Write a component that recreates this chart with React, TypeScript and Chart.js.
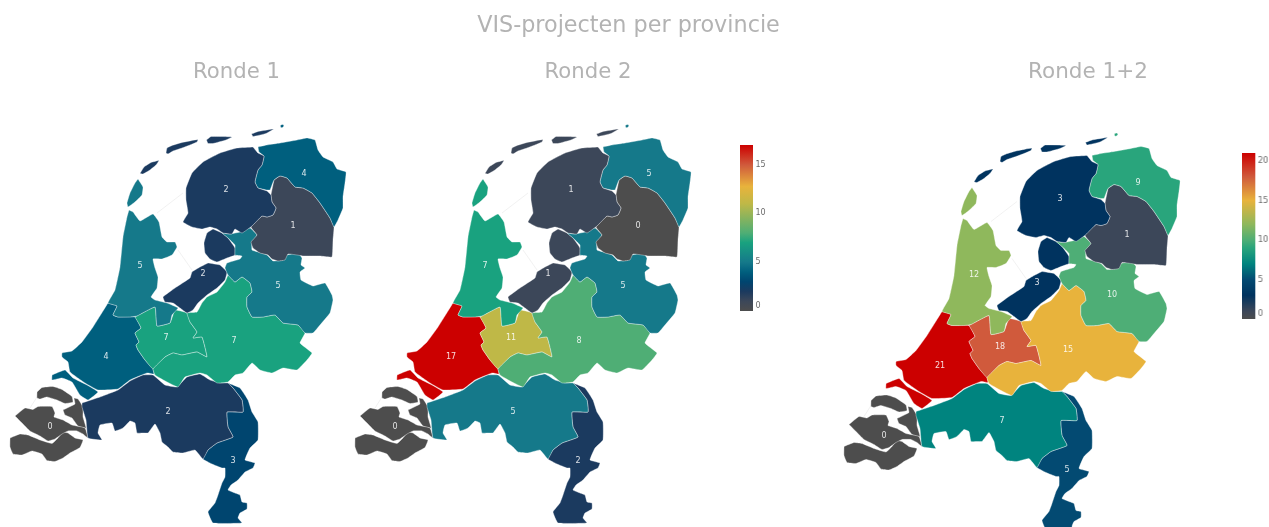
import React, { useEffect, useRef } from "react";
import { Chart, registerables } from "chart.js";

Chart.register(...registerables);

const PROVINCES = ["Friesland","Groningen","Drenthe","Overijssel","Flevoland","Noord-Holland","Gelderland","Utrecht","Zuid-Holland","Noord-Brabant","Limburg","Zeeland"];
const RONDE_1 = [2,4,1,5,2,5,7,7,4,2,3,0];
const RONDE_2 = [1,5,0,5,1,7,8,11,17,5,2,0];
const RONDE_12 = [3,9,1,10,3,12,15,18,21,7,5,0];
const TICKS_2 = [0,5,10,15];
const TICKS_12 = [0,5,10,15,20];

const FRIESLAND = [[253,147,258,153,264,156,262,165,258,170,255,182,258,188,267,191,271,195,272,202,276,208,273,215,267,217,262,216,252,226,242,233,235,229,232,234,223,233,217,229,210,227,202,229,192,227,183,222,188,213,186,200,186,188,192,173,203,162,220,153,237,148],
  [140,173.5,144,167,151,162.5,159,160.5,156,165,150,170,143,174],[166,153,167,148,172,145.5,182,142.5,198,139.5,197,142,190,145,182,148,173,151,168,154],[206.5,140,211,136.5,222,136.5,232,137,226,140,213,143.5,208,143.5],[251.5,134,258,131.5,273.5,129,266,133.5,253,136.5]];
const GRONINGEN = [[258,147,267,145,280,143,297,140,307,138,315,140,318,150,323,157,333,162,337,169,346,172,345,183,343,197,343,208,338,220,334,227,330,218,320,203,312,193,303,188,295,187,287,178,280,176,274,180,270,190,267,190,258,188,255,182,258,170,262,165,264,156,259,152],[280.5,125,283,124.5,284,126,282,127.8,280.5,127]];
const DRENTHE = [[274,180,280,176,287,178,295,187,303,188,312,193,320,203,330,218,334,227,333,240,332,257,320,256,303,256,297,255,288,254,285,260,278,261,272,259,268,255,260,253,253,248,251,242,257,235,251,227,262,216,267,217,273,215,276,208,272,202,271,195]];
const OVERIJSSEL = [[222,233,230,234,240,232,250,228,257,235,252,242,252,250,258,252,267,255,273,261,283,260,287,255,298,253,302,258,301,265,305,268,300,272,301,280,313,286,325,283,332,295,333,300,330,313,320,325,313,333,305,333,298,325,283,323,275,315,263,317,252,317,247,307,247,297,252,292,250,283,242,277,235,282,228,275,225,268,227,263,240,259,242,256,235,255,235,245,228,238]];
const FLEVOLAND = [[213,229,222,233,228,238,235,248,235,255,227,258,217,262,210,259,205,253,204,243,207,233],[208,263,220,265,227,272,225,280,217,288,207,295,198,303,193,310,187,313,180,308,173,303,165,302,163,297,175,288,190,278,192,272,200,267]];
const NOORD_HOLLAND = [[129,210,133,212,140,221,153,214,159,222,162,237,167,242,175,242,177,247,172,255,162,259,153,259,155,268,158,277,157,288,151,297,155,300,167,303,178,308,172,315,170,323,157,326,155,307,137,316,130,317,118,317,113,315,117,306,108,303,115,290,120,267,123,237,127,217],[138,179,143,187,142,195,135,202,128,207,127,203,130,193,135,183]];
const GELDERLAND = [[228,275,235,282,242,277,250,283,252,292,247,297,247,307,252,317,263,317,275,315,283,323,298,325,305,333,300,343,312,353,307,360,297,370,283,368,272,373,260,370,252,363,243,373,235,375,228,382,217,383,207,375,200,373,185,377,178,387,167,382,155,375,153,369,165,357,173,353,182,355,197,352,207,357,202,337,193,338,197,332,190,322,187,313,197,312,202,303,207,297,217,292,225,282]];
const UTRECHT = [[135,317,155,307,157,326,170,323,175,310,187,313,190,322,197,332,193,338,202,337,207,357,197,352,182,355,173,353,165,357,153,369,145,360,138,350,136,345,139,342,135,333,141,328]];
const ZUID_HOLLAND = [[108,303,117,306,113,315,118,317,135,317,141,328,135,333,139,342,136,345,138,350,145,360,153,369,154,374,147,373,130,380,118,389,98,390,85,383,70,372,68,362,62,357,62,353,72,351,82,342,93,327],[52,375,65,370,73,378,87,385,98,392,88,400,80,395,72,382,62,378,52,380]];
const NOORD_BRABANT = [[82,403,100,397,118,390,130,381,143,375,153,375,165,385,177,387,187,377,200,374,210,380,220,383,228,383,233,388,242,400,243,412,227,412,228,427,233,437,217,443,208,450,203,459,195,450,183,453,173,452,168,447,162,442,160,433,155,424,148,433,143,433,137,433,135,423,130,421,123,428,115,431,112,423,100,425,98,433,102,440,88,438,86,420,82,407]];
const LIMBURG = [[228,383,240,388,248,400,252,412,258,422,258,440,250,448,245,460,255,463,253,468,245,472,238,480,231,485,228,490,235,493,240,495,242,502,247,503,247,509,240,513,238,518,242,523,213,523,208,512,215,503,218,495,222,483,225,477,225,468,222,468,212,464,203,459,208,450,217,443,233,437,228,427,227,412,243,412,242,400,233,388]];
const ZEELAND = [[37,392,42,387.5,53,386.5,62,389.5,72,396.5,73,402,65,403.5,57,400,47,397,40,399,37,398],
  [15,416,25,408,33,409.5,38,406.5,52,406.5,55,413,54,417,63,420,72,425,85,428,88,438,83,434,77,431,68,431,62,434,55,439,48,441,40,436,30,431,22,423],
  [63,410,75,404,74,398,78,399,83,407,83,417,86,428,78,426,72,418,65,415],
  [10,438,20,434,28,435,40,440,52,443.5,58,438,63,432,68,433,75,438,83,440,80,447.5,70,453,63,458,55,461.5,47,460.5,42,454,32,451,22,455,13,454,10,447]];
const ZEELAND_GAP = [34,411.5,36.5,413,39,420,36.5,418.5];
const SHAPES = [FRIESLAND,GRONINGEN,DRENTHE,OVERIJSSEL,FLEVOLAND,NOORD_HOLLAND,GELDERLAND,UTRECHT,ZUID_HOLLAND,NOORD_BRABANT,LIMBURG,ZEELAND];
const LABEL_X = [226,304,293,278,203,140,234,166,106,168,233,50];
const LABEL_Y = [190,174,226,286,274,266,341,338,357,412,461,427];
const FAINT_LINES = [[157,213,183,193],[178,250,192,270],[37,397,30,408]];

const SCALE_17: [number,string][] = [[0,"#4d4d4d"],[.059,"#3c4759"],[.118,"#1b3a5f"],[.176,"#00456f"],[.235,"#005f7e"],[.294,"#15798a"],[.412,"#19a27f"],[.47,"#4fae75"],[.647,"#bfb847"],[.75,"#e8b33c"],[.88,"#d05a3c"],[1,"#cc0000"]];
const SCALE_21: [number,string][] = [[0,"#4d4d4d"],[.048,"#3c4759"],[.143,"#00335f"],[.238,"#034a72"],[.333,"#00847f"],[.43,"#2aa57c"],[.476,"#4eae76"],[.571,"#8fb85c"],[.714,"#e8b33c"],[.857,"#d05a3c"],[1,"#cc0000"]];

const FONT = "'DejaVu Sans', sans-serif";

function hex(c: string) { return [1,3,5].map(i => parseInt(c.slice(i,i+2),16)); }
function colorAt(stops: [number,string][], t: number) {
  for (let i = 1; i < stops.length; i++) {
    if (t <= stops[i][0]) {
      const [a,ca] = stops[i-1], [b,cb] = stops[i];
      const f = (t-a)/(b-a), A = hex(ca), B = hex(cb);
      return `rgb(${A.map((v,k)=>Math.round(v+(B[k]-v)*f)).join(",")})`;
    }
  }
  return stops[stops.length-1][1];
}
function points(flat: number[]) {
  const out: {x:number,y:number}[] = [];
  for (let i = 0; i < flat.length; i += 2) out.push({x:flat[i],y:flat[i+1]});
  return out;
}

const labelPlugin = {
  id: "valueLabels",
  afterDatasetsDraw(chart: any) {
    const values: number[] = chart.options.plugins.valueLabels.values;
    const { ctx, scales } = chart;
    ctx.save();
    ctx.font = `8px ${FONT}`;
    ctx.fillStyle = "rgba(255,255,255,0.85)";
    ctx.textAlign = "center";
    ctx.textBaseline = "middle";
    values.forEach((v, i) => ctx.fillText(String(v), scales.x.getPixelForValue(LABEL_X[i]), scales.y.getPixelForValue(LABEL_Y[i])));
    ctx.restore();
  },
};

function polygon(flat: number[], label: string, color: string, edge: string) {
  const pts = points(flat);
  pts.push(pts[0]);
  return { label, data: pts, showLine: true, fill: "shape", backgroundColor: color, borderColor: edge, borderWidth: 0.6, pointRadius: 0, tension: 0.1 };
}

function MapPanel({ values, stops, cmax, left, width, dy }: any) {
  const ref = useRef<HTMLCanvasElement>(null);
  useEffect(() => {
    const datasets: any[] = [];
    FAINT_LINES.forEach(l => datasets.push({ data: points(l), showLine: true, pointRadius: 0, borderColor: "rgba(190,190,190,0.35)", borderWidth: 0.6 }));
    SHAPES.forEach((polys, i) => polys.forEach(poly => {
      datasets.push(polygon(poly, PROVINCES[i], colorAt(stops, values[i]/cmax), "rgba(255,255,255,0.6)"));
    }));
    datasets.push(polygon(ZEELAND_GAP, "", "#ffffff", "#ffffff"));
    const chart = new Chart(ref.current!, {
      type: "scatter",
      data: { datasets },
      plugins: [labelPlugin],
      options: {
        animation: false, responsive: false, events: [],
        layout: { padding: 0 },
        scales: {
          x: { display: false, min: 0, max: width },
          y: { display: false, reverse: true, min: -dy, max: 527-dy },
        },
        plugins: { legend: { display: false }, tooltip: { enabled: false }, valueLabels: { values } },
      } as any,
    });
    return () => chart.destroy();
  }, []);
  return <canvas ref={ref} width={width} height={527} style={{ position: "absolute", left, top: 0, width, height: 527 }} />;
}

const zeroLabel = {
  id: "zeroLabel",
  afterDraw(chart: any) {
    const { ctx, scales, chartArea } = chart;
    ctx.save();
    ctx.font = `8px ${FONT}`;
    ctx.fillStyle = "#6b6b6b";
    ctx.textAlign = "left";
    ctx.textBaseline = "middle";
    ctx.fillText("0", chartArea.right + 2.5, scales.y.getPixelForValue(0) - 5);
    ctx.restore();
  },
};

function ColorBar({ stops, cmax, ticks, left, top, barW, barH }: any) {
  const ref = useRef<HTMLCanvasElement>(null);
  useEffect(() => {
    const chart = new Chart(ref.current!, {
      type: "bar",
      data: { labels: [""], datasets: [{ data: [[0, cmax]] as any, barPercentage: 1, categoryPercentage: 1, borderWidth: 0,
        backgroundColor: (c: any) => {
          const a = c.chart.chartArea;
          if (!a) return stops[0][1];
          const g = c.chart.ctx.createLinearGradient(0, a.bottom, 0, a.top);
          stops.forEach(([t, col]: any) => g.addColorStop(t, col));
          return g;
        } }] },
      plugins: [zeroLabel],
      options: {
        animation: false, responsive: false, events: [],
        layout: { padding: { top: 10, bottom: 10, left: 0, right: 0 } },
        scales: {
          x: { display: false },
          y: {
            position: "right", min: 0, max: cmax,
            grid: { display: false, drawTicks: false }, border: { display: false },
            afterBuildTicks: (axis: any) => { axis.ticks = ticks.map((v: number) => ({ value: v })); },
            afterFit: (axis: any) => { axis.width = 30; axis.paddingTop = 0; axis.paddingBottom = 0; },
            ticks: { padding: 2.5, autoSkip: false, color: "#6b6b6b", font: { family: "'DejaVu Sans', sans-serif", size: 8 },
              callback: (v: any) => (v === 0 ? "" : String(v)) },
          },
        },
        plugins: { legend: { display: false }, tooltip: { enabled: false } },
      } as any,
    });
    return () => chart.destroy();
  }, []);
  const w = barW + 30, h = barH + 20;
  return <canvas ref={ref} width={w} height={h} style={{ position: "absolute", left, top: top - 10, width: w, height: h }} />;
}

function Title({ text, cx, cy, size }: any) {
  return <div style={{ position: "absolute", left: cx - 300, width: 600, top: cy - 15, height: 30, lineHeight: "30px", textAlign: "center", fontFamily: FONT, fontSize: size, color: "#b3b3b3", whiteSpace: "nowrap" }}>{text}</div>;
}

export default function App() {
  return (
    <div style={{ position: "fixed", left: 0, top: 0, width: 1269, height: 527, overflow: "hidden", background: "#fff" }}>
      <MapPanel values={RONDE_1} stops={SCALE_17} cmax={17} left={0} width={352} dy={0} />
      <MapPanel values={RONDE_2} stops={SCALE_17} cmax={17} left={345} width={352} dy={0} />
      <MapPanel values={RONDE_12} stops={SCALE_21} cmax={21} left={834} width={352} dy={8.5} />
      <ColorBar stops={SCALE_17} cmax={17} ticks={TICKS_2} left={740} top={145} barW={13} barH={166} />
      <ColorBar stops={SCALE_21} cmax={21} ticks={TICKS_12} left={1242} top={152.5} barW={13.5} barH={166.5} />
      <Title text="VIS-projecten per provincie" cx={628.5} cy={24} size={22.3} />
      <Title text="Ronde 1" cx={236.5} cy={71} size={21.2} />
      <Title text="Ronde 2" cx={588} cy={71} size={21.2} />
      <Title text="Ronde 1+2" cx={1088} cy={71} size={21.5} />
    </div>
  );
}
